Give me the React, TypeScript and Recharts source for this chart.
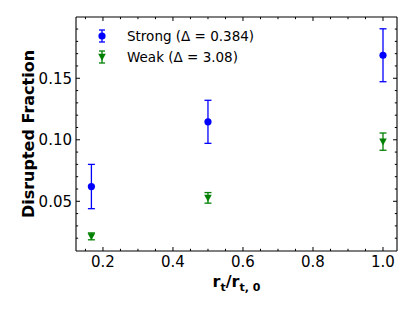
import { ScatterChart, Scatter, XAxis, YAxis, ErrorBar, ReferenceLine } from 'recharts';

const xVals = [0.167, 0.5, 1.0];
const strongVals = [0.062, 0.1146, 0.1687];
const strongErr = [0.018, 0.0175, 0.0215];
const weakVals = [0.0215, 0.0528, 0.0985];
const weakErr = [0.0028, 0.0043, 0.007];

const xTicks = [0.2, 0.4, 0.6, 0.8, 1.0];
const xMinorTicks = [0.15, 0.25, 0.3, 0.35, 0.45, 0.5, 0.55, 0.65, 0.7, 0.75, 0.85, 0.9, 0.95];
const yTicks = [0.05, 0.1, 0.15];
const yMinorTicks = [0.02, 0.03, 0.04, 0.06, 0.07, 0.08, 0.09, 0.11, 0.12, 0.13, 0.14, 0.16, 0.17, 0.18, 0.19];

const xDomain = [0.123, 1.04];
const yDomain = [0.0096, 0.1998];

const BLUE = '#0000ff';
const GREEN = '#008000';
const FONT = 'DejaVu Sans';

const W = 415;
const H = 309;
const M = { top: 17, right: 18, left: 0, bottom: 0 };
const Y_AXIS_W = 76;
const X_AXIS_H = 58;
const PLOT_L = M.left + Y_AXIS_W;
const PLOT_R = W - M.right;
const PLOT_T = M.top;
const PLOT_B = H - X_AXIS_H;

const strongData = xVals.map((x, i) => ({ x, y: strongVals[i], err: strongErr[i] }));
const weakData = xVals.map((x, i) => ({ x, y: weakVals[i], err: weakErr[i] }));

const isMajor = (list: number[], v: number) => list.some((t) => Math.abs(t - v) < 1e-9);

const Dot = (props: any) => <circle cx={props.cx} cy={props.cy} r={3.6} fill={BLUE} />;

const Tri = (props: any) => {
    const { cx, cy } = props;
    return <path d={`M${cx - 3.8},${cy - 3.2} L${cx + 3.8},${cy - 3.2} L${cx},${cy + 3.8} Z`} fill={GREEN} />;
};

// inward ticks on bottom + top, label only on majors
const XTick = (props: any) => {
    const { x, payload } = props;
    const v = payload.value;
    const major = isMajor(xTicks, v);
    const len = major ? 4 : 2.2;
    return (
        <g>
            <line x1={x} y1={PLOT_B} x2={x} y2={PLOT_B - len} stroke="#000" strokeWidth={1} />
            <line x1={x} y1={PLOT_T} x2={x} y2={PLOT_T + len} stroke="#000" strokeWidth={1} />
            {major && (
                <text x={x} y={256} dy="0.76em" textAnchor="middle" fontFamily={FONT} fontSize={15} fill="#000">
                    {v.toFixed(1)}
                </text>
            )}
        </g>
    );
};

// inward ticks on left + right
const YTick = (props: any) => {
    const { y, payload } = props;
    const v = payload.value;
    const major = isMajor(yTicks, v);
    const len = major ? 4 : 2.2;
    return (
        <g>
            <line x1={PLOT_L} y1={y} x2={PLOT_L + len} y2={y} stroke="#000" strokeWidth={1} />
            <line x1={PLOT_R} y1={y} x2={PLOT_R - len} y2={y} stroke="#000" strokeWidth={1} />
            {major && (
                <text x={72} y={y} dy="0.36em" textAnchor="end" fontFamily={FONT} fontSize={15} fill="#000">
                    {v.toFixed(2)}
                </text>
            )}
        </g>
    );
};

const XLabel = (props: any) => {
    const { x, width } = props.viewBox;
    return (
        <text x={x + width / 2} y={287} textAnchor="middle" fontFamily={FONT} fontWeight="bold" fontSize={16} fill="#000">
            <tspan>r</tspan>
            <tspan fontSize={11} dy={4}>t</tspan>
            <tspan dy={-4}>/r</tspan>
            <tspan fontSize={11} dy={4}>t, 0</tspan>
        </text>
    );
};

const YLabel = (props: any) => {
    const { y, height } = props.viewBox;
    const cy = y + height / 2;
    return (
        <text x={28} y={cy} transform={`rotate(-90, 28, ${cy})`} textAnchor="middle" dominantBaseline="central"
            fontFamily={FONT} fontWeight="bold" fontSize={16} fill="#000">
            Disrupted Fraction
        </text>
    );
};

const LegendIcon = ({ color, tri }: { color: string; tri?: boolean }) => (
    <svg width={12} height={14} style={{ display: 'block' }}>
        <line x1={6} y1={1} x2={6} y2={13} stroke={color} strokeWidth={1.3} />
        <line x1={3} y1={1} x2={9} y2={1} stroke={color} strokeWidth={1.3} />
        <line x1={3} y1={13} x2={9} y2={13} stroke={color} strokeWidth={1.3} />
        {tri ? <path d="M2.2,3.8 L9.8,3.8 L6,10.8 Z" fill={color} /> : <circle cx={6} cy={7} r={3.6} fill={color} />}
    </svg>
);

const legendItems = [
    { label: 'Strong (Δ = 0.384)', color: BLUE, tri: false },
    { label: 'Weak (Δ = 3.08)', color: GREEN, tri: true },
];

const LegendBox = () => (
    <div style={{ position: 'absolute', left: 96, top: 26, fontFamily: FONT, fontSize: 13.5, color: '#000' }}>
        {legendItems.map((it) => (
            <div key={it.label} style={{ display: 'flex', alignItems: 'center', height: 20.5 }}>
                <LegendIcon color={it.color} tri={it.tri} />
                <span style={{ marginLeft: 19 }}>{it.label}</span>
            </div>
        ))}
    </div>
);

export default function App() {
    const frame = { stroke: '#000', strokeWidth: 1.1 };
    return (
        <div style={{ position: 'absolute', left: 0, top: 0, width: W, height: H, background: '#fff' }}>
            <ScatterChart width={W} height={H} margin={M}>
                <XAxis xAxisId="x" type="number" dataKey="x" domain={xDomain} ticks={[...xMinorTicks, ...xTicks]}
                    interval={0} allowDataOverflow height={X_AXIS_H} tickLine={false} tick={<XTick />}
                    axisLine={frame} label={<XLabel />} />
                <YAxis yAxisId="y" type="number" dataKey="y" domain={yDomain} ticks={[...yMinorTicks, ...yTicks]}
                    interval={0} allowDataOverflow width={Y_AXIS_W} tickLine={false} tick={<YTick />}
                    axisLine={frame} label={<YLabel />} />

                <ReferenceLine xAxisId="x" yAxisId="y" y={yDomain[1]} stroke="#000" strokeWidth={1.1} />
                <ReferenceLine xAxisId="x" yAxisId="y" x={xDomain[1]} stroke="#000" strokeWidth={1.1} />

                <Scatter name="Strong" data={strongData} xAxisId="x" yAxisId="y" shape={<Dot />} isAnimationActive={false}>
                    <ErrorBar dataKey="err" direction="y" width={3.5} stroke={BLUE} strokeWidth={1.3} />
                </Scatter>
                <Scatter name="Weak" data={weakData} xAxisId="x" yAxisId="y" shape={<Tri />} isAnimationActive={false}>
                    <ErrorBar dataKey="err" direction="y" width={3.5} stroke={GREEN} strokeWidth={1.3} />
                </Scatter>
            </ScatterChart>
            <LegendBox />
        </div>
    );
}
